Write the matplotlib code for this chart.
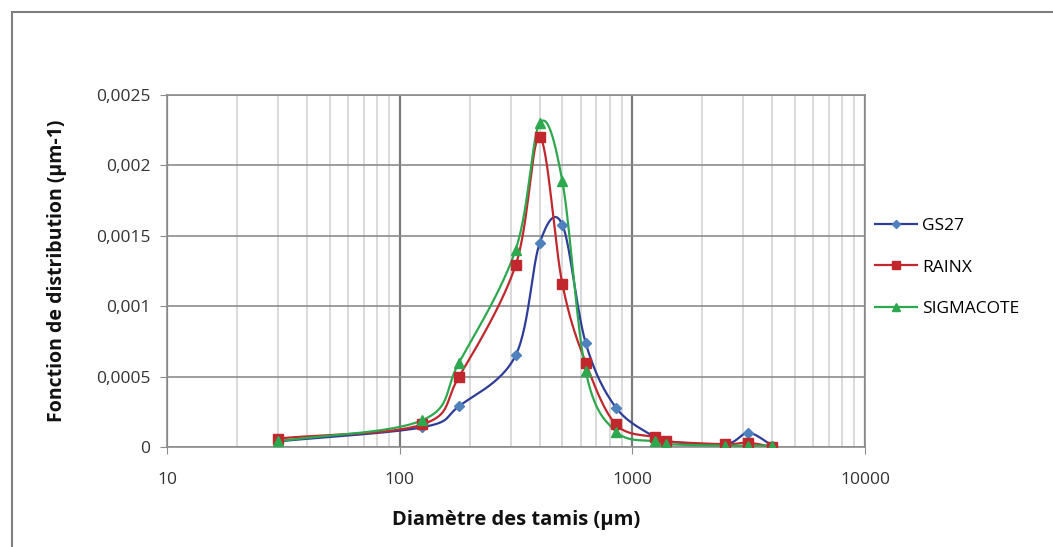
import matplotlib
matplotlib.use('Agg')
import matplotlib.pyplot as plt
import numpy as np
from matplotlib.patches import Rectangle
from matplotlib.ticker import FixedLocator, NullFormatter

plt.rcParams['font.family'] = ['Open Sans', 'DejaVu Sans']

# données
diametres = [30, 125, 180, 315, 400, 500, 630, 850, 1250, 1400, 2500, 3150, 4000]
gs27 = [0.00004, 0.00014, 0.00029, 0.00065, 0.00145, 0.00158, 0.00074, 0.00028,
        0.00007, 0.00004, 0.00002, 0.00010, 0.00001]
rainx = [0.00006, 0.00016, 0.00050, 0.00129, 0.00220, 0.00116, 0.00060, 0.00016,
         0.00007, 0.00004, 0.00002, 0.00003, 0.00000]
sigmacote = [0.00004, 0.00019, 0.00060, 0.00140, 0.00230, 0.00189, 0.00054, 0.00011,
             0.00004, 0.00002, 0.00001, 0.00001, 0.00001]

y_ticks = [0, 0.0005, 0.001, 0.0015, 0.002, 0.0025]
y_labels = ['0', '0,0005', '0,001', '0,0015', '0,002', '0,0025']
x_ticks = [10, 100, 1000, 10000]
x_labels = ['10', '100', '1000', '10000']


def lissage(x, y, n=30):
    # courbe lissée type Excel (Catmull-Rom) en échelle log pour x
    lx = np.log10(np.asarray(x, float))
    y = np.asarray(y, float)
    px = np.concatenate([[2 * lx[0] - lx[1]], lx, [2 * lx[-1] - lx[-2]]])
    py = np.concatenate([[2 * y[0] - y[1]], y, [2 * y[-1] - y[-2]]])
    xs, ys = [], []
    t = np.linspace(0, 1, n)
    for i in range(1, len(px) - 2):
        p0x, p1x, p2x, p3x = px[i - 1:i + 3]
        p0y, p1y, p2y, p3y = py[i - 1:i + 3]
        # bezier équivalent, tension 1/6
        c1x, c1y = p1x + (p2x - p0x) / 6, p1y + (p2y - p0y) / 6
        c2x, c2y = p2x - (p3x - p1x) / 6, p2y - (p3y - p1y) / 6
        bx = (1 - t) ** 3 * p1x + 3 * (1 - t) ** 2 * t * c1x + 3 * (1 - t) * t ** 2 * c2x + t ** 3 * p2x
        by = (1 - t) ** 3 * p1y + 3 * (1 - t) ** 2 * t * c1y + 3 * (1 - t) * t ** 2 * c2y + t ** 3 * p2y
        xs.extend(bx)
        ys.extend(by)
    return 10 ** np.array(xs), np.array(ys)


fig = plt.figure(figsize=(10.53, 5.47), dpi=100)
fig.patches.append(Rectangle((12 / 1053, -0.1), 1.2, (547 - 12) / 547 + 0.1,
                             transform=fig.transFigure, fill=False,
                             edgecolor='#7f7f7f', lw=1.5))

ax = fig.add_axes([167 / 1053, 100 / 547, (865 - 167) / 1053, (447 - 95) / 547])
ax.set_xscale('log')
ax.set_xlim(10, 10000)
ax.set_ylim(0, 0.0025)

series = [
    ('GS27', gs27, '#2E3D98', '#4F81BD', 'D', 5),
    ('RAINX', rainx, '#C0282D', '#C0282D', 's', 6.5),
    ('SIGMACOTE', sigmacote, '#2EA84E', '#2EA84E', '^', 7),
]
for nom, vals, c_line, c_mark, m, ms in series:
    sx, sy = lissage(diametres, vals)
    ax.plot(sx, sy, color=c_line, lw=1.6, zorder=3)
    ax.plot(diametres, vals, ls='none', marker=m, ms=ms, color=c_mark,
            markeredgecolor=c_mark, zorder=4)
    ax.plot([], [], color=c_line, lw=1.6, marker=m, ms=ms * 0.8,
            markerfacecolor=c_mark, markeredgecolor=c_mark, label=nom)

# grille
ax.xaxis.set_major_locator(FixedLocator(x_ticks))
minors = [k * 10 ** e for e in range(1, 4) for k in range(2, 10)]
ax.xaxis.set_minor_locator(FixedLocator(minors))
ax.xaxis.set_minor_formatter(NullFormatter())
ax.set_xticklabels(x_labels)
ax.set_yticks(y_ticks)
ax.set_yticklabels(y_labels)
ax.grid(True, which='major', axis='x', color='#7a7a7a', lw=1.6)
ax.grid(True, which='minor', axis='x', color='#d4d4d4', lw=1.2)
ax.grid(True, which='major', axis='y', color='#8c8c8c', lw=1.2)
ax.set_axisbelow(True)
for s in ['top', 'left', 'bottom', 'right']:
    ax.spines[s].set_color('#8c8c8c')
    ax.spines[s].set_linewidth(1.2)
ax.tick_params(axis='both', which='major', labelsize=12.5, color='#8c8c8c',
               length=5, labelcolor='#333333')
ax.tick_params(axis='y', which='major', pad=7)
ax.tick_params(axis='x', which='minor', length=0)
ax.tick_params(axis='x', which='major', pad=13)

ax.set_xlabel('Diamètre des tamis (µm)', fontsize=14.5, fontweight='bold',
              labelpad=16, color='#111111')
ax.set_ylabel('Fonction de distribution (µm-1)', fontsize=14,
              fontweight='bold', labelpad=21, color='#111111')

ax.legend(loc='center left', bbox_to_anchor=(1.0, 0.51), frameon=False,
          fontsize=12.5, handlelength=2.4, labelspacing=1.45, handletextpad=0.3,
          borderaxespad=0.2)

fig.savefig('out.png', dpi=100)
